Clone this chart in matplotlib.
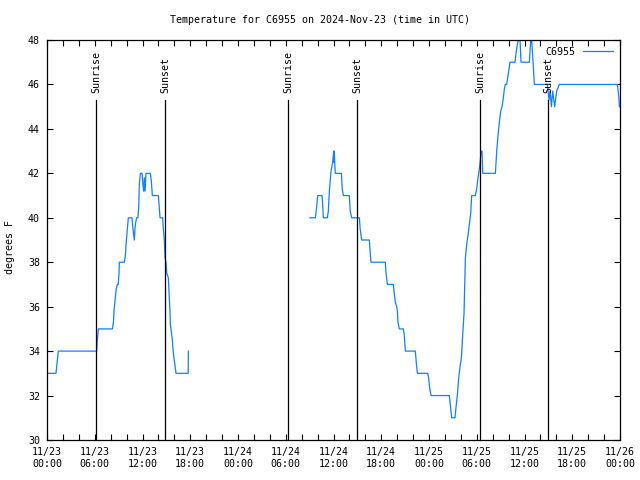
"""
Temperature trace for station C6955 with sunrise / sunset markers.
"""

import matplotlib
matplotlib.use("Agg")
import matplotlib.pyplot as plt
import matplotlib.dates as mdates
import pandas as pd

START = pd.Timestamp("2024-11-23 00:00")
LINE_COLOR = "#0f80ff"
FONT = "DejaVu Sans Mono"

# hours since 11/23 00:00 UTC, temperature in degrees F
seg1_hours = [0.0, 1.13, 1.42, 6.24, 6.3, 6.45, 8.21, 8.35, 8.42, 8.55, 8.7, 8.84,
              8.95, 9.05, 9.09, 9.72, 9.85, 9.93, 10.05, 10.22, 10.68, 10.8, 10.97,
              11.05, 11.15, 11.27, 11.43, 11.52, 11.6, 11.73, 11.94, 12.05, 12.15,
              12.23, 12.32, 12.44, 12.98, 13.1, 13.2, 13.23, 13.99, 14.1, 14.2,
              14.54, 14.62, 14.74, 14.83, 14.95, 15.05, 15.25, 15.35, 15.45, 15.5,
              15.58, 15.65, 15.75, 15.83, 15.95, 16.1, 16.21, 17.74, 17.76]
seg1_temp = [33, 33, 34, 34, 34.4, 35, 35, 35.3, 35.8, 36.3, 36.8, 37,
             37, 37.5, 38, 38, 38.3, 38.8, 39.3, 40, 40, 39.5, 39,
             39.5, 39.8, 40, 40, 40.5, 41.5, 42, 42, 41.5, 41.2,
             41.8, 41.2, 42, 42, 41.7, 41.2, 41, 41, 40.5, 40,
             40, 39.5, 39, 38.2, 38, 37.5, 37.3, 36.5, 35.8, 35.2,
             35, 34.8, 34.5, 34.1, 33.7, 33.3, 33, 33, 34]

seg2_hours = [33.05, 33.72, 33.89, 34.01, 34.56, 34.65, 34.72, 35.23, 35.35, 35.48,
              35.69, 35.9, 36.02, 36.06, 36.1, 36.15, 36.23, 36.99, 37.1, 37.24,
              37.99, 38.1, 38.28, 39.25, 39.35, 39.54, 40.5, 40.6, 40.71, 42.51,
              42.6, 42.77, 43.52, 43.6, 43.77, 43.94, 44.03, 44.1, 44.27, 44.78,
              44.9, 45.03, 46.28, 46.45, 46.54, 47.83, 47.95, 48.1, 48.25, 50.56,
              50.7, 50.85, 51.27, 51.4, 51.56, 51.73, 51.9, 52.07, 52.23, 52.4,
              52.57, 52.74, 52.9, 53.07, 53.24, 53.36, 53.82, 53.99, 54.16, 54.33,
              54.45, 54.54, 54.66, 54.75, 56.34, 56.51, 56.67, 56.84, 57.01, 57.18,
              57.34, 57.47, 57.59, 57.76, 57.97, 58.18, 58.81, 58.93, 59.1, 59.23,
              59.44, 59.56, 60.61, 60.78, 60.9, 61.11, 61.24, 62.87, 63.08, 63.21,
              63.38, 63.54, 63.79, 64.04, 64.38, 71.67, 71.84, 71.92]
seg2_temp = [40, 40, 40.5, 41, 41, 40.5, 40, 40, 40.3, 41.2,
             42.1, 42.5, 43, 42.5, 43, 42.5, 42, 42, 41.3, 41,
             41, 40.3, 40, 40, 39.5, 39, 39, 38.5, 38, 38,
             37.5, 37, 37, 36.7, 36.2, 36, 35.8, 35.3, 35, 35,
             34.7, 34, 34, 33.3, 33, 33, 32.8, 32.3, 32, 32,
             31.5, 31, 31, 31.5, 32, 32.8, 33.3, 33.7, 34.7, 35.7,
             38.2, 38.8, 39.2, 39.7, 40.2, 41, 41, 41.3, 41.8, 42.2,
             42.6, 43, 43, 42, 42, 43, 43.7, 44.3, 44.8, 45,
             45.4, 45.8, 46, 46, 46.5, 47, 47, 47.4, 47.8, 48,
             48, 47, 47, 48, 48, 46.8, 46, 46, 45.3, 45.7,
             45, 45.7, 45, 45.7, 46, 46, 45.5, 45]

sunrise_hours = [6.17, 30.28, 54.45]
sunset_hours = [14.85, 38.98, 63.0]


def to_time(hours):
    return START + pd.to_timedelta(hours, unit="h")


fig = plt.figure(figsize=(6.4, 4.8), dpi=100)
ax = fig.add_axes([47 / 640, 40 / 480, 573 / 640, 400 / 480])

ax.plot(to_time(seg1_hours), seg1_temp, color=LINE_COLOR, lw=0.9, label="C6955")
ax.plot(to_time(seg2_hours), seg2_temp, color=LINE_COLOR, lw=0.9)

for hours, label in [(h, "Sunrise") for h in sunrise_hours] + \
                    [(h, "Sunset") for h in sunset_hours]:
    t = to_time(hours)
    ax.axvline(t, ymin=0, ymax=0.85, color="black", lw=0.9)
    ax.text(t, 0.868, label, transform=ax.get_xaxis_transform(), rotation=90,
            ha="center", va="bottom", fontsize=7.2, family=FONT)

ax.set_xlim(START, START + pd.Timedelta(hours=72))
ax.set_ylim(30, 48)
ax.set_yticks(range(30, 49, 2))

ax.xaxis.set_major_locator(mdates.HourLocator(byhour=range(0, 24, 6)))
ax.xaxis.set_minor_locator(mdates.HourLocator(byhour=range(0, 24, 2)))
ax.xaxis.set_major_formatter(mdates.DateFormatter("%m/%d\n%H:%M"))

ax.tick_params(which="both", direction="in", top=True, right=True,
               length=4, width=0.8, labelsize=7.2, pad=5)
for lab in ax.get_xticklabels() + ax.get_yticklabels():
    lab.set_family(FONT)
    lab.set_linespacing(1.25)
for sp in ax.spines.values():
    sp.set_linewidth(0.9)

fig.text(10 / 640, 0.485, "degrees F", rotation=90, ha="center", va="center",
         family=FONT, fontsize=7.2)
fig.text(0.5, 0.958, "Temperature for C6955 on 2024-Nov-23 (time in UTC)",
         ha="center", va="center", family=FONT, fontsize=7.2)

ax.legend(loc="upper right", frameon=False, prop={"family": FONT, "size": 7.2},
          markerfirst=False, handlelength=3, borderaxespad=0.3)

fig.savefig("out.png", dpi=100)
